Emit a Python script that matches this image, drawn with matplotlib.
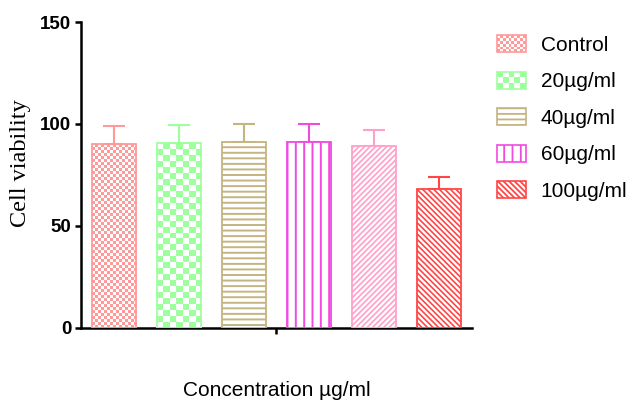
import numpy as np
import matplotlib
matplotlib.use("Agg")
import matplotlib.pyplot as plt
from matplotlib.colors import ListedColormap
from matplotlib.legend_handler import HandlerPatch
from matplotlib.patches import Rectangle, Patch

# data
groups = ["Control", "20µg/ml", "40µg/ml", "60µg/ml", "80µg/ml", "100µg/ml"]
means = [90, 90.5, 91, 91, 89, 68]
errors = [9, 9, 9, 9, 8, 6]
in_legend = [True, True, True, True, False, True]

colors = ["#FF9A9A", "#9EFF9E", "#C4B482", "#F04AE0", "#FFA0CA", "#FF4646"]
hatches = [None, None, "---", "||", "/" * 6, "\\" * 6]
hatch_lw = [None, None, 1.4, 1.4, 1.2, 1.2]
checker_px = [3, 6, None, None, None, None]  # size of checker squares (pixels)

plt.rcParams["hatch.linewidth"] = 1.3
plt.rcParams["font.family"] = ["Liberation Sans", "DejaVu Sans"]


class HandlerChecker(HandlerPatch):
    # legend swatch drawn as a small checkerboard
    def __init__(self, cell, color):
        super().__init__()
        self.cell = cell
        self.color = color

    def create_artists(self, legend, orig_handle, xdescent, ydescent,
                       width, height, fontsize, trans):
        x0, y0 = -xdescent, -ydescent
        nx = max(1, int(round(width / self.cell)))
        ny = max(1, int(round(height / self.cell)))
        cw, ch = width / nx, height / ny
        arts = []
        for i in range(nx):
            for j in range(ny):
                if (i + j) % 2 == 0:
                    arts.append(Rectangle((x0 + i * cw, y0 + j * ch), cw, ch,
                                          facecolor=self.color, edgecolor="none",
                                          transform=trans))
        arts.append(Rectangle((x0, y0), width, height, facecolor="none",
                              edgecolor=self.color, lw=1.2, transform=trans))
        return arts


def set_hlw(p, lw):
    if lw and hasattr(p, "set_hatch_linewidth"):
        p.set_hatch_linewidth(lw)


fig = plt.figure(figsize=(6.29, 4.03), dpi=100)
ax = fig.add_axes([0.129, 0.187, 0.621, 0.758])
ax.set_xlim(-0.5, 5.5)
ax.set_ylim(0, 150)

x = np.arange(len(groups))
bars = ax.bar(x, means, width=0.68, facecolor="none", zorder=3)

px_x = ax.transData.transform([[1, 0]])[0][0] - ax.transData.transform([[0, 0]])[0][0]
px_y = ax.transData.transform([[0, 1]])[0][1] - ax.transData.transform([[0, 0]])[0][1]

for i, b in enumerate(bars):
    c = colors[i]
    b.set_edgecolor(c)
    b.set_linewidth(1.3)
    if hatches[i]:
        b.set_hatch(hatches[i])
        b.set_facecolor("white")
        set_hlw(b, hatch_lw[i])
    if checker_px[i]:
        w, h = b.get_width(), b.get_height()
        x0 = b.get_x()
        nx = max(1, int(round(w * px_x / checker_px[i])))
        ny = max(1, int(round(h * px_y / checker_px[i])))
        grid = (np.add.outer(np.arange(ny), np.arange(nx)) % 2).astype(float)
        im = ax.imshow(grid, cmap=ListedColormap(["white", c]), origin="lower",
                       extent=(x0, x0 + w, 0, h), aspect="auto",
                       interpolation="nearest", zorder=2)
        im.set_clip_path(b)
    ax.errorbar(x[i], means[i], yerr=[[0], [errors[i]]], fmt="none",
                ecolor=c, elinewidth=1.5, capsize=7.9, capthick=1.5, zorder=2)

ax.set_xlim(-0.5, 5.5)
ax.set_ylim(0, 150)

ax.spines["top"].set_visible(False)
ax.spines["right"].set_visible(False)
ax.spines["left"].set_linewidth(1.8)
ax.spines["bottom"].set_linewidth(1.8)

ax.set_xticks([2.5])
ax.set_xticklabels([""])
ax.set_yticks([0, 50, 100, 150])
ax.tick_params(axis="both", direction="out", length=4, width=1.8)
ax.tick_params(axis="y", pad=3, labelsize=13.5)
for t in ax.get_yticklabels():
    t.set_fontweight("bold")

ax.set_ylabel("Cell viability", family=["Liberation Serif", "DejaVu Serif"], fontsize=17.5)
ax.yaxis.set_label_coords(-0.128, 0.54)
ax.set_xlabel("Concentration µg/ml", fontsize=15)
ax.xaxis.set_label_coords(0.5, -0.175)

# legend
handles, labels, hmap = [], [], {}
for i in range(len(groups)):
    if not in_legend[i]:
        continue
    p = Patch(facecolor="white", edgecolor=colors[i], hatch=hatches[i], lw=1.2)
    set_hlw(p, hatch_lw[i])
    if checker_px[i]:
        hmap[p] = HandlerChecker(checker_px[i] * 0.72, colors[i])
    handles.append(p)
    labels.append(groups[i])

fig.legend(handles, labels, handler_map=hmap, loc="upper left",
           bbox_to_anchor=(0.79, 0.913), frameon=False, fontsize=15,
           handlelength=1.4, handleheight=0.9, handletextpad=0.7,
           labelspacing=0.8, borderpad=0, borderaxespad=0)

fig.savefig("out.png", dpi=100)
